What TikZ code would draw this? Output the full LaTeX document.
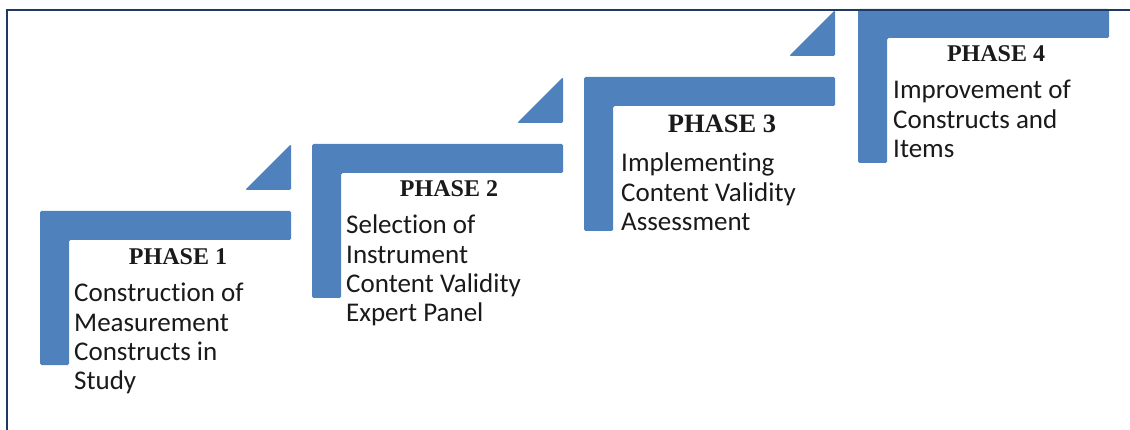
\documentclass[tikz,border=0pt]{standalone}
\usepackage{fontspec}
\setmainfont{Carlito}[RawFeature={-liga}]
\newfontfamily\headfont{Liberation Serif}
\definecolor{stepblue}{HTML}{4F81BD}
\definecolor{framenavy}{HTML}{1F3864}
\definecolor{txt}{HTML}{1A1A1A}
\begin{document}
\begin{tikzpicture}[x=1pt,y=-1pt,
  stepshape/.style={fill=stepblue,draw=none,rounded corners=1.5pt},
  phasehead/.style={anchor=base,inner sep=0pt,text=txt,font=\headfont\bfseries\fontsize{24}{28}\selectfont},
  phasebody/.style={anchor=base west,inner sep=0pt,text=txt,font=\fontsize{27}{29.3}\selectfont},
  framestyle/.style={draw=framenavy,line width=2pt}]
\fill[white] (0,0) rectangle (1130,430);
\useasboundingbox (0,0) rectangle (1130,430);
% steps
\foreach \xo/\yo in {40/211, 312/144, 584/77, 858/9}{
  \fill[stepshape] (\xo,\yo) -- ++(251,0) -- ++(0,29) -- ++(-222,0) -- ++(0,125) -- ++(-29,0) -- cycle;
}
\foreach \xo/\yo in {40/211, 312/144, 584/77}{
  \fill[stepshape] (\xo+205,\yo-21) -- (\xo+251,\yo-21) -- (\xo+251,\yo-67) -- cycle;
}
% frame
\coordinate (fbl) at (7,440);
\coordinate (ftl) at (7,10.5);
\coordinate (ftr) at (1140,10.5);
\draw[framestyle] (fbl) -- (ftl) -- (ftr);
% texts
\node[phasehead] (h1) at (178,265) {PHASE 1};
\node[phasebody] (b1) at (74,302) {\begin{tabular}[t]{@{}l@{}}Construction of\\Measurement\\Constructs in\\Study\end{tabular}};
\node[phasehead] (h2) at (449,197) {PHASE 2};
\node[phasebody] (b2) at (346,234) {\begin{tabular}[t]{@{}l@{}}Selection of\\Instrument\\Content Validity\\Expert Panel\end{tabular}};
\node[phasehead,font=\headfont\bfseries\fontsize{26.5}{30}\selectfont] (h3) at (722,133) {PHASE 3};
\node[phasebody] (b3) at (621,172) {\begin{tabular}[t]{@{}l@{}}Implementing\\Content Validity\\Assessment\end{tabular}};
\node[phasehead] (h4) at (996,62) {PHASE 4};
\node[phasebody] (b4) at (893,99) {\begin{tabular}[t]{@{}l@{}}Improvement of\\Constructs and\\Items\end{tabular}};
\end{tikzpicture}
\end{document}
